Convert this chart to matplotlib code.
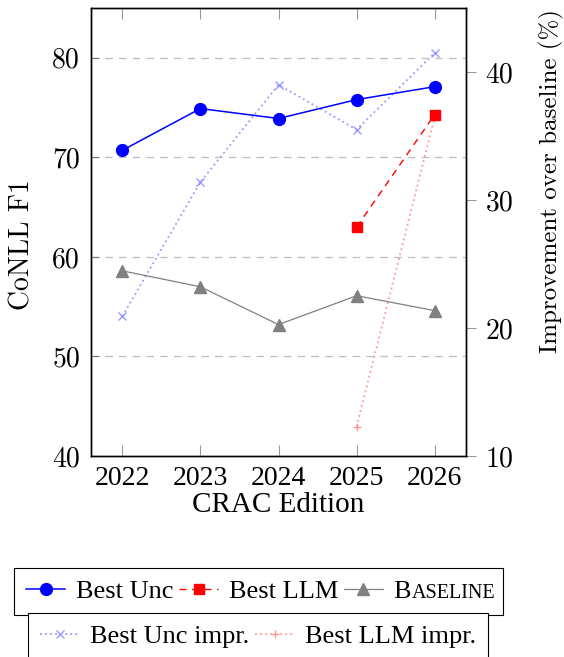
import matplotlib
matplotlib.use("Agg")
import matplotlib.pyplot as plt
from matplotlib.ticker import FixedLocator
from matplotlib.font_manager import FontProperties

years = [2022, 2023, 2024, 2025, 2026]
best_unc = [70.7, 74.9, 73.9, 75.8, 77.1]
llm_years = [2025, 2026]
best_llm = [63.0, 74.3]
baseline = [58.6, 57.0, 53.2, 56.1, 54.6]
best_unc_impr = [20.9, 31.4, 39.0, 35.5, 41.5]
best_llm_impr = [12.3, 36.5]

plt.rcParams["font.family"] = "Liberation Serif"

fig = plt.figure(figsize=(5.64, 6.57), dpi=100)
ax = fig.add_axes([91 / 564, 1 - 456 / 657, 375 / 564, 448 / 657])
ax2 = ax.twinx()

ax.set_xlim(2021.6, 2026.4)
ax.set_ylim(40, 85)
ax2.set_ylim(10, 45)

# grid on left axis
for v in [50, 60, 70, 80]:
    ax.axhline(v, color="#bdbdbd", lw=0.9, dashes=(6, 5), zorder=0)

l1, = ax.plot(years, best_unc, color="#0000ff", lw=1.1, marker="o", ms=8.5,
              label="Best Unc", zorder=4)
l2, = ax.plot(llm_years, best_llm, color="#ff0000", lw=1.0, dashes=(5, 4),
              marker="s", ms=7, label="Best LLM", zorder=4)
l3, = ax.plot(years, baseline, color="#808080", lw=0.9, marker="^", ms=8,
              label="B", zorder=4)
l4, = ax2.plot(years, best_unc_impr, color="#9999ff", lw=1.3, ls=(0, (1, 1.8)),
               marker="x", ms=5.5, mew=1, label="Best Unc impr.")
l5, = ax2.plot(llm_years, best_llm_impr, color="#ff9999", lw=1.3, ls=(0, (1, 1.8)),
               marker="+", ms=6, mew=1, label="Best LLM impr.")
ax.set_zorder(ax2.get_zorder() + 1)
ax.patch.set_visible(False)

ax.xaxis.set_major_locator(FixedLocator(years))
ax.set_xticklabels([str(y) for y in years], fontsize=20)
ax.tick_params(axis="x", direction="in", length=8, color="#999999", pad=7,
               top=True)
ax.set_yticks([40, 50, 60, 70, 80])
ax.set_yticklabels(["40", "50", "60", "70", "80"], family="cmr10", fontsize=20)
ax.tick_params(axis="y", direction="in", length=6, color="#777777", pad=8)
ax2.set_yticks([10, 20, 30, 40])
ax2.set_yticklabels(["10", "20", "30", "40"], family="cmr10", fontsize=20)
ax2.tick_params(axis="y", direction="out", length=7, color="#999999", pad=7)
for a in (ax, ax2):
    for s in a.spines.values():
        s.set_linewidth(1.0)

ax.set_xlabel("CRAC Edition", fontsize=21, labelpad=1)
fig.text(22 / 564, 1 - 245 / 657, "CoNLL F1", family="cmr10", fontsize=20,
         rotation=90, ha="center", va="center")
fig.text(551 / 564, 1 - 181 / 657, "Improvement over baseline (%)",
         family="cmr10", fontsize=18, rotation=90, ha="center", va="center")

# small caps for "Baseline": pad the label with spaces and overlay smaller caps
r = fig.canvas.get_renderer()
big = FontProperties(family="Liberation Serif", size=19)
small = FontProperties(family="Liberation Serif", size=14.5)
w_caps = r.get_text_width_height_descent("ASELINE", small, ismath=False)[0]
w_sp = (r.get_text_width_height_descent(" " * 20 + "x", big, ismath=False)[0]
        - r.get_text_width_height_descent("x", big, ismath=False)[0]) / 20
l3.set_label("B" + " " * int(w_caps / w_sp))

leg_kw = dict(fontsize=19, frameon=True, fancybox=False, framealpha=1,
              edgecolor="black", borderpad=0.45, handlelength=1.5,
              handletextpad=0.4, columnspacing=0.2, borderaxespad=0)
leg1 = fig.legend(handles=[l1, l2, l3], ncol=3, loc="upper center",
                  bbox_to_anchor=(0.458, 1 - 568 / 657), **leg_kw)
leg2 = fig.legend(handles=[l4, l5], ncol=2, loc="upper center",
                  bbox_to_anchor=(0.458, 1 - 613 / 657), **leg_kw)
for lg in (leg1, leg2):
    lg.get_frame().set_linewidth(0.8)

fig.canvas.draw()
r = fig.canvas.get_renderer()
t = leg1.get_texts()[2]
ext = t.get_window_extent(r)
wB = r.get_text_width_height_descent("B", big, ismath=False)[0]
lpd = r.get_text_width_height_descent("lp", big, ismath=False)[2]
fig.text((ext.x0 + wB + 1) / fig.bbox.width, (ext.y0 + lpd) / fig.bbox.height,
         "ASELINE", fontproperties=small, ha="left", va="baseline", zorder=20)

fig.savefig("out.png", dpi=100)
